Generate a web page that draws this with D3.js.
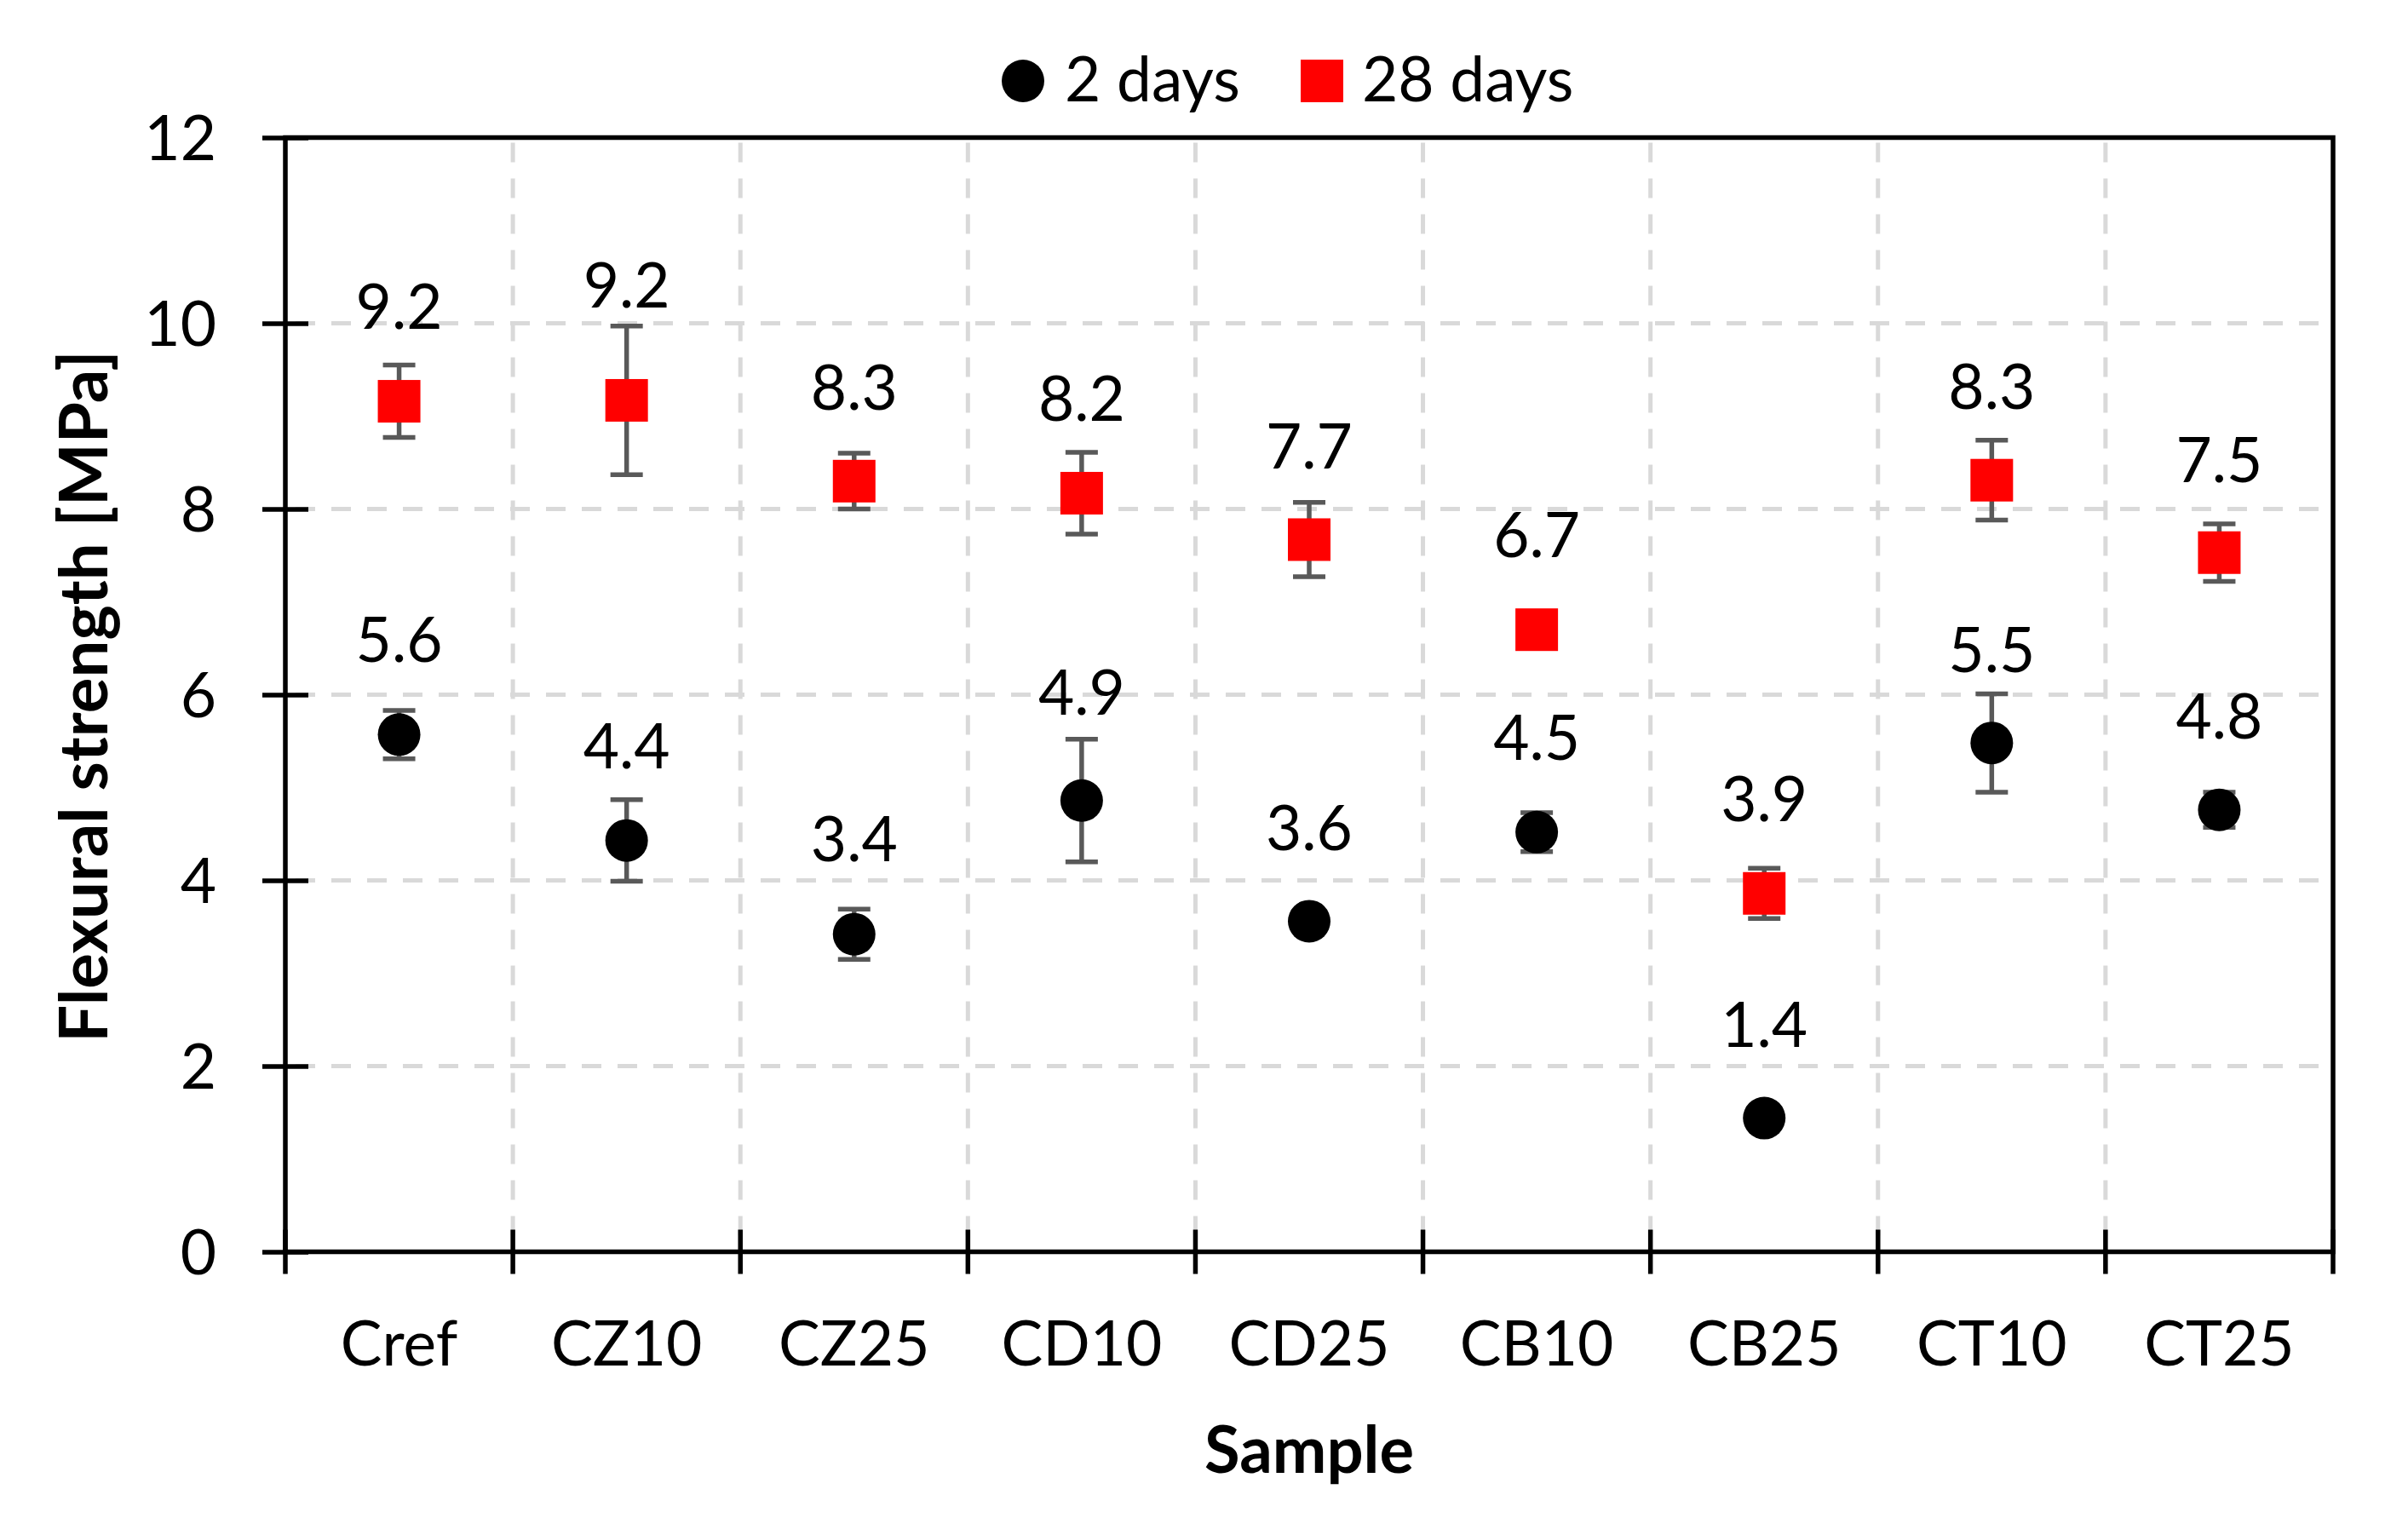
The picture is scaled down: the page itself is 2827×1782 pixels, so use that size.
<!DOCTYPE html>
<html>
<head>
<meta charset="utf-8">
<script src="https://cdn.jsdelivr.net/npm/d3@7"></script>
<style>
  body { margin: 0; background: #fff; }
  text { font-family: Lato, "Open Sans", sans-serif; fill: #000; }
</style>
</head>
<body>
<svg id="chart" width="2827" height="1782"></svg>
<script>
// samples on the x axis
const categories = ["Cref", "CZ10", "CZ25", "CD10", "CD25", "CB10", "CB25", "CT10", "CT25"]

// flexural strength [MPa]
const days2  = [5.57, 4.43, 3.42, 4.86, 3.56, 4.52, 1.44, 5.48, 4.76]
const err2   = [0.26, 0.44, 0.27, 0.66, 0.08, 0.21, 0.05, 0.53, 0.19]
const days28 = [9.16, 9.17, 8.30, 8.17, 7.67, 6.70, 3.86, 8.31, 7.53]
const err28  = [0.39, 0.80, 0.30, 0.44, 0.40, 0.10, 0.27, 0.43, 0.31]

// where the value labels sit (in MPa, they were moved by hand in the original)
const label2At  = [6.59, 5.45, 4.45, 6.03, 4.57, 5.54, 2.45, 6.48, 5.77]
const label28At = [10.18, 10.41, 9.31, 9.19, 8.68, 7.72, 4.88, 9.32, 8.53]

const yTicks = [0, 2, 4, 6, 8, 10, 12]
const seriesNames = ["2 days", "28 days"]

const plotLeft = 335, plotRight = 2739, plotTop = 161.5, plotBottom = 1469.5

const svg = d3.select("#chart")

const x = d3.scaleBand().domain(categories).range([plotLeft, plotRight])
const y = d3.scaleLinear().domain([0, 12]).range([plotBottom, plotTop])

const fmt = d3.format(".1f")
const fontSize = 73

// gridlines
const grid = svg.append("g")
  .attr("stroke", "#d9d9d9")
  .attr("stroke-width", 5)
  .attr("stroke-dasharray", "23,19")

grid.selectAll("line.h")
  .data(yTicks.filter(t => t > 0 && t < 12))
  .join("line")
  .attr("class", "h")
  .attr("x1", plotLeft + 12).attr("x2", plotRight)
  .attr("y1", d => y(d)).attr("y2", d => y(d))

const bounds = d3.range(categories.length + 1).map(i => plotLeft + i * x.step())

grid.selectAll("line.v")
  .data(bounds.slice(1, -1))
  .join("line")
  .attr("class", "v")
  .attr("x1", d => d).attr("x2", d => d)
  .attr("y1", plotTop + 6).attr("y2", plotBottom)

// y axis
const yAxis = svg.append("g")
  .attr("transform", `translate(${plotLeft},0)`)
  .call(d3.axisLeft(y).tickValues(yTicks).tickSize(0).tickPadding(81))

yAxis.select(".domain").remove()
yAxis.selectAll(".tick line")
  .attr("x1", -27).attr("x2", 27)
  .attr("stroke", "#000").attr("stroke-width", 5.5)
yAxis.selectAll(".tick text")
  .attr("dy", "0.36em")
  .style("font-size", fontSize + "px")
  .style("font-family", "Lato")

// x axis, labels in the middle of each band, ticks on the band edges
const xAxis = svg.append("g")
  .attr("transform", `translate(0,${plotBottom})`)
  .call(d3.axisBottom(x).tickSize(0).tickPadding(0))

xAxis.select(".domain").remove()
xAxis.selectAll(".tick text")
  .attr("y", 133.5).attr("dy", 0)
  .style("font-size", fontSize + "px")
  .style("font-family", "Lato")

svg.append("g").selectAll("line")
  .data(bounds)
  .join("line")
  .attr("x1", d => d).attr("x2", d => d)
  .attr("y1", plotBottom - 26).attr("y2", plotBottom + 26)
  .attr("stroke", "#000").attr("stroke-width", 5.5)

// plot frame
svg.append("rect")
  .attr("x", plotLeft).attr("y", plotTop)
  .attr("width", plotRight - plotLeft).attr("height", plotBottom - plotTop)
  .attr("fill", "none")
  .attr("stroke", "#000").attr("stroke-width", 5.5)

// error bars
function errorBars(vals, errs) {
  const g = svg.append("g").attr("stroke", "#595959").attr("stroke-width", 5.5)
  const cx = (d, i) => x(categories[i]) + x.bandwidth() / 2
  g.selectAll("line.s").data(vals).join("line").attr("class", "s")
    .attr("x1", cx).attr("x2", cx)
    .attr("y1", (d, i) => y(d + errs[i])).attr("y2", (d, i) => y(d - errs[i]))
  g.selectAll("line.t").data(vals).join("line").attr("class", "t")
    .attr("x1", (d, i) => cx(d, i) - 19).attr("x2", (d, i) => cx(d, i) + 19)
    .attr("y1", (d, i) => y(d + errs[i])).attr("y2", (d, i) => y(d + errs[i]))
  g.selectAll("line.b").data(vals).join("line").attr("class", "b")
    .attr("x1", (d, i) => cx(d, i) - 19).attr("x2", (d, i) => cx(d, i) + 19)
    .attr("y1", (d, i) => y(d - errs[i])).attr("y2", (d, i) => y(d - errs[i]))
}
errorBars(days28, err28)
errorBars(days2, err2)

// markers
svg.append("g").selectAll("rect")
  .data(days28)
  .join("rect")
  .attr("x", (d, i) => x(categories[i]) + x.bandwidth() / 2 - 25)
  .attr("y", d => y(d) - 25)
  .attr("width", 50).attr("height", 50)
  .attr("fill", "#ff0000")

svg.append("g").selectAll("circle")
  .data(days2)
  .join("circle")
  .attr("cx", (d, i) => x(categories[i]) + x.bandwidth() / 2)
  .attr("cy", d => y(d))
  .attr("r", 25)
  .attr("fill", "#000")

// value labels
function valueLabels(vals, at) {
  svg.append("g").selectAll("text")
    .data(vals)
    .join("text")
    .attr("x", (d, i) => x(categories[i]) + x.bandwidth() / 2)
    .attr("y", (d, i) => y(at[i]))
    .attr("dy", "0.36em")
    .attr("text-anchor", "middle")
    .style("font-size", fontSize + "px")
    .text(d => fmt(d))
}
valueLabels(days28, label28At)
valueLabels(days2, label2At)

// legend
const legend = svg.append("g")
legend.append("circle").attr("cx", 1201).attr("cy", 95).attr("r", 25).attr("fill", "#000")
legend.append("text").attr("x", 1250).attr("y", 119)
  .style("font-size", fontSize + "px").text(seriesNames[0])
legend.append("rect").attr("x", 1527).attr("y", 70).attr("width", 50).attr("height", 50)
  .attr("fill", "#ff0000")
legend.append("text").attr("x", 1599).attr("y", 119)
  .style("font-size", fontSize + "px").text(seriesNames[1])

// axis titles
svg.append("text")
  .attr("x", (plotLeft + plotRight) / 2).attr("y", 1729)
  .attr("text-anchor", "middle")
  .style("font-size", "76px").style("font-weight", "bold")
  .text("Sample")

svg.append("text")
  .attr("transform", `translate(126,${(plotTop + plotBottom) / 2 + 2}) rotate(-90)`)
  .attr("text-anchor", "middle")
  .style("font-size", "78px").style("font-weight", "bold")
  .text("Flexural strength [MPa]")
</script>
</body>
</html>
